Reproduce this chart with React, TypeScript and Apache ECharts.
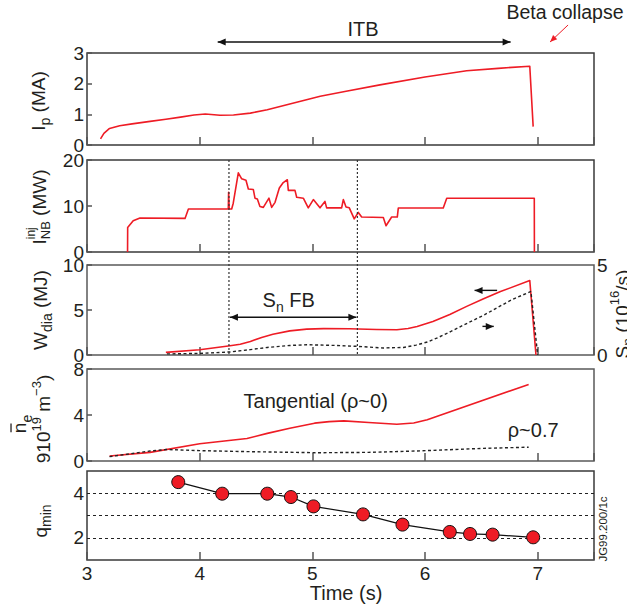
import React, { useEffect, useRef } from "react";
import * as echarts from "echarts";

// ---------------- data (time in s) ----------------
const timeTicks = [3, 4, 5, 6, 7];
const plasmaCurrent = [
  [3.12, 0.2], [3.15, 0.38], [3.2, 0.54], [3.29, 0.63], [3.4, 0.69], [3.56, 0.77], [3.7, 0.84],
  [3.83, 0.91], [3.95, 0.98], [4.05, 1.01], [4.18, 0.97], [4.3, 0.98], [4.45, 1.04], [4.6, 1.15],
  [4.8, 1.34], [5.07, 1.59], [5.3, 1.75], [5.6, 1.96], [6.0, 2.22], [6.37, 2.42], [6.65, 2.5],
  [6.93, 2.57], [6.96, 0.6],
];
const nbiPower = [
  [3.36, 0], [3.361, 5.3], [3.41, 6.8], [3.47, 7.4], [3.87, 7.3], [3.9, 9.35], [4.254, 9.35],
  [4.257, 13.0], [4.262, 9.35], [4.284, 9.35], [4.298, 10.6], [4.343, 17.2], [4.373, 15.9],
  [4.411, 15.6], [4.432, 13.7], [4.476, 13.6], [4.491, 11.7], [4.512, 11.5], [4.535, 9.9],
  [4.565, 9.7], [4.615, 11.7], [4.639, 9.7], [4.669, 10.8], [4.707, 13.9], [4.742, 15.1],
  [4.778, 15.7], [4.787, 13.4], [4.846, 13.4], [4.861, 11.9], [4.92, 11.7], [4.964, 9.6],
  [5.009, 11.4], [5.068, 9.6], [5.112, 11.0], [5.127, 9.6], [5.26, 9.6], [5.275, 11.4],
  [5.299, 9.8], [5.328, 9.6], [5.372, 7.2], [5.408, 8.6], [5.438, 7.6], [5.63, 7.5],
  [5.654, 5.7], [5.704, 7.6], [5.754, 7.6], [5.763, 9.55], [6.162, 9.55], [6.193, 11.7],
  [6.97, 11.7], [6.971, 0],
];
const storedEnergy = [
  [3.7, 0.29], [4.0, 0.59], [4.27, 1.03], [4.36, 1.2], [4.45, 1.5], [4.55, 1.95], [4.65, 2.3],
  [4.8, 2.68], [4.95, 2.88], [5.1, 2.93], [5.33, 2.92], [5.57, 2.84], [5.75, 2.81], [5.85, 2.95],
  [5.93, 3.17], [6.07, 3.73], [6.22, 4.5], [6.37, 5.4], [6.52, 6.25], [6.67, 7.05], [6.93, 8.27],
  [6.985, 0],
];
const neutronRate = [
  [3.71, 0.06], [4.0, 0.09], [4.27, 0.17], [4.45, 0.3], [4.6, 0.42], [4.8, 0.53], [4.95, 0.57],
  [5.22, 0.53], [5.4, 0.48], [5.63, 0.39], [5.81, 0.42], [5.92, 0.55], [6.02, 0.72], [6.12, 0.98],
  [6.23, 1.31], [6.38, 1.78], [6.53, 2.24], [6.65, 2.66], [6.77, 3.07], [6.94, 3.53], [7.0, 0],
];
const densityCore = [
  [3.2, 0.44], [3.56, 0.75], [4.0, 1.5], [4.42, 1.96], [4.6, 2.4], [4.8, 2.85], [5.02, 3.29],
  [5.15, 3.42], [5.28, 3.49], [5.5, 3.35], [5.75, 3.2], [5.9, 3.3], [6.02, 3.58], [6.92, 6.66],
];
const densityEdge = [
  [3.2, 0.38], [3.56, 0.87], [3.71, 1.0], [4.0, 0.9], [4.45, 0.81], [5.05, 0.72], [5.5, 0.75],
  [5.93, 0.87], [6.52, 1.1], [6.92, 1.2],
];
const qMin = [
  [3.81, 4.5], [4.2, 3.98], [4.6, 3.98], [4.81, 3.83], [5.01, 3.41], [5.45, 3.05], [5.8, 2.59],
  [6.22, 2.26], [6.4, 2.17], [6.6, 2.14], [6.96, 2.02],
];
const qLevels = [2, 3, 4];
const feedbackWindow = [4.26, 5.4];
const itbWindow = [4.16, 6.76];

const FONT = '"Liberation Sans", Arial, Helvetica, sans-serif';
const TXT = "#231f20";
const RED = "#ee1c25";
const FRAME = "#3a3a3a";

let ctx: CanvasRenderingContext2D | null = null;
function measure(text: string, size: number) {
  if (!ctx) ctx = document.createElement("canvas").getContext("2d");
  ctx!.font = `${size}px ${FONT}`;
  return ctx!.measureText(text).width;
}

type Tok = { t: string; s?: number; dy?: number; stack?: boolean; bar?: boolean };
function richLabel(cx: number, cy: number, toks: Tok[], base: number, rotation: number) {
  const items: any[] = [];
  let x = 0;
  let prevStart = 0;
  let prevW = 0;
  toks.forEach((k) => {
    const size = k.s ?? base;
    const w = measure(k.t, size);
    let start = x;
    if (k.stack) start = prevStart;
    items.push({ k, start, w, size });
    if (k.stack) {
      x = prevStart + Math.max(prevW, w);
    } else {
      x = start + w;
      prevStart = start;
      prevW = w;
    }
  });
  const total = x;
  const children: any[] = [];
  items.forEach(({ k, start, w, size }) => {
    const lx = start - total / 2;
    children.push({
      type: "text",
      x: lx,
      y: k.dy ?? 0,
      style: { text: k.t, fontSize: size, fontFamily: FONT, fill: TXT, align: "left", verticalAlign: "middle" },
    });
    if (k.bar) {
      children.push({
        type: "line",
        shape: { x1: lx + 1, y1: -size * 0.42, x2: lx + w - 1, y2: -size * 0.42 },
        style: { stroke: TXT, lineWidth: 1.3 },
      });
    }
  });
  return { type: "group", x: cx, y: cy, rotation, children };
}

function head(tx: number, ty: number, fx: number, fy: number, color: string, len = 8, hw = 3.5) {
  const dx = tx - fx;
  const dy = ty - fy;
  const d = Math.hypot(dx, dy) || 1;
  const ux = dx / d;
  const uy = dy / d;
  const bx = tx - ux * len;
  const by = ty - uy * len;
  const px = -uy;
  const py = ux;
  return {
    type: "polygon",
    shape: { points: [[tx, ty], [bx + px * hw, by + py * hw], [bx - px * hw, by - py * hw]] },
    style: { fill: color },
  };
}

function arrowLine(x1: number, y1: number, x2: number, y2: number, color: string, heads: "start" | "end" | "both", width = 1.5) {
  const out: any[] = [{ type: "line", shape: { x1, y1, x2, y2 }, style: { stroke: color, lineWidth: width } }];
  if (heads === "end" || heads === "both") out.push(head(x2, y2, x1, y1, color));
  if (heads === "start" || heads === "both") out.push(head(x1, y1, x2, y2, color));
  return out;
}

export default function App() {
  const ref = useRef<HTMLDivElement>(null);
  useEffect(() => {
    const chart = echarts.init(ref.current!, null, { renderer: "svg" });
    const gridBoxes = [
      [53, 92],
      [160, 92],
      [265, 90],
      [369, 92],
      [471, 89],
    ];
    const grid = gridBoxes.map(([top, height], i) => ({
      left: 87,
      right: 33,
      top,
      height,
      show: true,
      borderColor: i === 2 || i === 3 ? "#5a5a5a" : FRAME,
      borderWidth: 1.5,
      backgroundColor: "transparent",
    }));
    const tickFont = { fontSize: 19, fontFamily: FONT, color: TXT };
    const xAxis = gridBoxes.map((_, i) => ({
      gridIndex: i,
      type: "value",
      min: timeTicks[0],
      max: 7.5,
      interval: 1,
      axisLine: { show: false },
      axisTick: { show: true, inside: true, length: 8, lineStyle: { color: "#555", width: 1.5 } },
      axisLabel: {
        show: i === 4,
        margin: 4,
        ...tickFont,
        formatter: (v: number) => (timeTicks.includes(v) ? String(v) : ""),
      },
      splitLine: { show: false },
    }));
    const yBase = (gridIndex: number, min: number, max: number, interval: number, extra: any = {}) => ({
      gridIndex,
      type: "value",
      min,
      max,
      interval,
      axisLine: { show: false },
      axisTick: { show: true, inside: true, length: 5, lineStyle: { color: "#555", width: 1.5 } },
      axisLabel: { margin: 3, ...tickFont },
      splitLine: { show: false },
      ...extra,
    });
    const yAxis = [
      yBase(0, 0, 3, 1),
      yBase(1, 0, 20, 10),
      yBase(2, 0, 10, 5),
      yBase(2, 0, 5, 5, { position: "right", axisTick: { show: false }, axisLabel: { margin: 3, ...tickFont } }),
      yBase(3, 0, 8, 4),
      yBase(4, 1, 5, 1, {
        axisTick: { show: false },
        axisLabel: { margin: 3, ...tickFont, formatter: (v: number) => (v === 2 || v === 4 ? String(v) : "") },
      }),
    ];
    const redLine = (data: number[][], xi: number, yi: number) => ({
      type: "line",
      data,
      xAxisIndex: xi,
      yAxisIndex: yi,
      showSymbol: false,
      lineStyle: { color: RED, width: 1.6, join: "round" },
      silent: true,
    });
    const dotLine = (data: number[][], xi: number, yi: number) => ({
      type: "line",
      data,
      xAxisIndex: xi,
      yAxisIndex: yi,
      showSymbol: false,
      lineStyle: { color: "#222", width: 1.4, type: [3, 2.5] },
      silent: true,
    });
    const series: any[] = [
      redLine(plasmaCurrent, 0, 0),
      redLine(nbiPower, 1, 1),
      redLine(storedEnergy, 2, 2),
      dotLine(neutronRate, 2, 3),
      redLine(densityCore, 3, 4),
      dotLine(densityEdge, 3, 4),
      {
        type: "line",
        data: qMin,
        xAxisIndex: 4,
        yAxisIndex: 5,
        symbol: "circle",
        symbolSize: 13,
        itemStyle: { color: RED, borderColor: "#111", borderWidth: 1 },
        lineStyle: { color: "#111", width: 1.2 },
        silent: true,
        z: 5,
        markLine: {
          silent: true,
          symbol: "none",
          label: { show: false },
          lineStyle: { color: "#222", width: 1, type: [3, 3] },
          data: qLevels.map((q) => ({ yAxis: q })),
          z: 1,
        },
      },
    ];
    chart.setOption({
      animation: false,
      textStyle: { fontFamily: FONT },
      grid,
      xAxis,
      yAxis,
      series,
    });

    const P = (xi: number, yi: number, t: number, v: number) =>
      chart.convertToPixel({ xAxisIndex: xi, yAxisIndex: yi } as any, [t, v]) as number[];

    const g: any[] = [];
    // ITB arrow
    const itbL = P(0, 0, itbWindow[0], 0)[0];
    const itbR = P(0, 0, itbWindow[1], 0)[0];
    g.push(...arrowLine(itbL, 42, itbR, 42, "#111", "both", 1.4));
    g.push({
      type: "text",
      x: P(0, 0, 5.45, 0)[0],
      y: 29,
      style: { text: "ITB", fontSize: 20, fontFamily: FONT, fill: TXT, align: "center", verticalAlign: "middle" },
    });
    // Beta collapse
    g.push({
      type: "text",
      x: 565,
      y: 12,
      style: { text: "Beta collapse", fontSize: 19.5, fontFamily: FONT, fill: TXT, align: "center", verticalAlign: "middle" },
    });
    const bcTip = P(0, 0, 7.11, 0)[0];
    g.push({ type: "line", shape: { x1: bcTip + 18, y1: 25, x2: bcTip, y2: 42 }, style: { stroke: RED, lineWidth: 1 } });
    g.push(head(bcTip, 42, bcTip + 18, 25, RED, 7, 3));
    // feedback window vertical dashed lines
    feedbackWindow.forEach((t) => {
      const top = P(1, 1, t, 20);
      const bot = P(2, 2, t, 0);
      g.push({
        type: "line",
        shape: { x1: top[0], y1: top[1], x2: bot[0], y2: bot[1] },
        style: { stroke: "#333", lineWidth: 1.2, lineDash: [2, 2] },
        z: 10,
      });
    });
    // Sn FB arrow
    const fbA = P(2, 2, feedbackWindow[0], 4.2);
    const fbB = P(2, 2, feedbackWindow[1], 4.2);
    g.push(...arrowLine(fbA[0] + 1, fbA[1], fbB[0] - 1, fbB[1], "#111", "both", 1.4));
    const fbT = P(2, 2, 4.79, 6.1);
    g.push(richLabel(fbT[0], fbT[1], [{ t: "S" }, { t: "n", s: 14, dy: 7 }, { t: " FB" }], 20, 0));
    // small direction arrows
    const la = P(2, 2, 6.44, 7.18);
    const lb = P(2, 2, 6.64, 7.18);
    g.push(...arrowLine(lb[0], lb[1], la[0], la[1], "#111", "end", 1.4));
    const ra = P(2, 2, 6.51, 3.18);
    const rb = P(2, 2, 6.61, 3.18);
    g.push(...arrowLine(ra[0], ra[1], rb[0], rb[1], "#111", "end", 1.4));
    // density annotations
    const tg = P(3, 4, 5.03, 5.2);
    g.push({
      type: "text",
      x: tg[0],
      y: tg[1],
      style: { text: "Tangential (ρ~0)", fontSize: 20, fontFamily: FONT, fill: TXT, align: "center", verticalAlign: "middle" },
    });
    const rp = P(3, 4, 6.96, 2.7);
    g.push({
      type: "text",
      x: rp[0],
      y: rp[1],
      style: { text: "ρ~0.7", fontSize: 20, fontFamily: FONT, fill: TXT, align: "center", verticalAlign: "middle" },
    });
    // axis titles
    const R = Math.PI / 2;
    g.push(richLabel(38, 101, [{ t: "I" }, { t: "p", s: 14, dy: 7 }, { t: " (MA)" }], 19, R));
    g.push(
      richLabel(39, 207, [{ t: "I" }, { t: "NB", s: 13, dy: 6 }, { t: "inj", s: 12, dy: -8, stack: true }, { t: " (MW)" }], 19, R)
    );
    g.push(richLabel(40, 310, [{ t: "W" }, { t: "dia", s: 14, dy: 7 }, { t: " (MJ)" }], 19, R));
    g.push(richLabel(19, 424, [{ t: "n", bar: true }, { t: "e", s: 14, dy: 8 }], 19, R));
    g.push(
      richLabel(43, 419, [{ t: "910" }, { t: "19", s: 13, dy: -7 }, { t: " m" }, { t: "−3", s: 13, dy: -7 }, { t: ")" }], 19, R)
    );
    g.push(richLabel(40, 521, [{ t: "q" }, { t: "min", s: 14, dy: 6 }], 19, R));
    g.push(
      richLabel(622, 314, [{ t: "S" }, { t: "n", s: 14, dy: 6 }, { t: " (10" }, { t: "16", s: 13, dy: -8 }, { t: "/s)" }], 19, R)
    );
    // x title and code
    g.push({
      type: "text",
      x: 346,
      y: 593,
      style: { text: "Time (s)", fontSize: 20, fontFamily: FONT, fill: TXT, align: "center", verticalAlign: "middle" },
    });
    g.push({
      type: "text",
      x: 603,
      y: 529,
      rotation: R,
      style: { text: "JG99.200/1c", fontSize: 11.5, fontFamily: FONT, fill: TXT, align: "center", verticalAlign: "middle" },
    });

    chart.setOption({ graphic: g });
    return () => chart.dispose();
  }, []);
  return <div ref={ref} style={{ position: "fixed", left: 0, top: 0, width: 627, height: 610, background: "#fff" }} />;
}
